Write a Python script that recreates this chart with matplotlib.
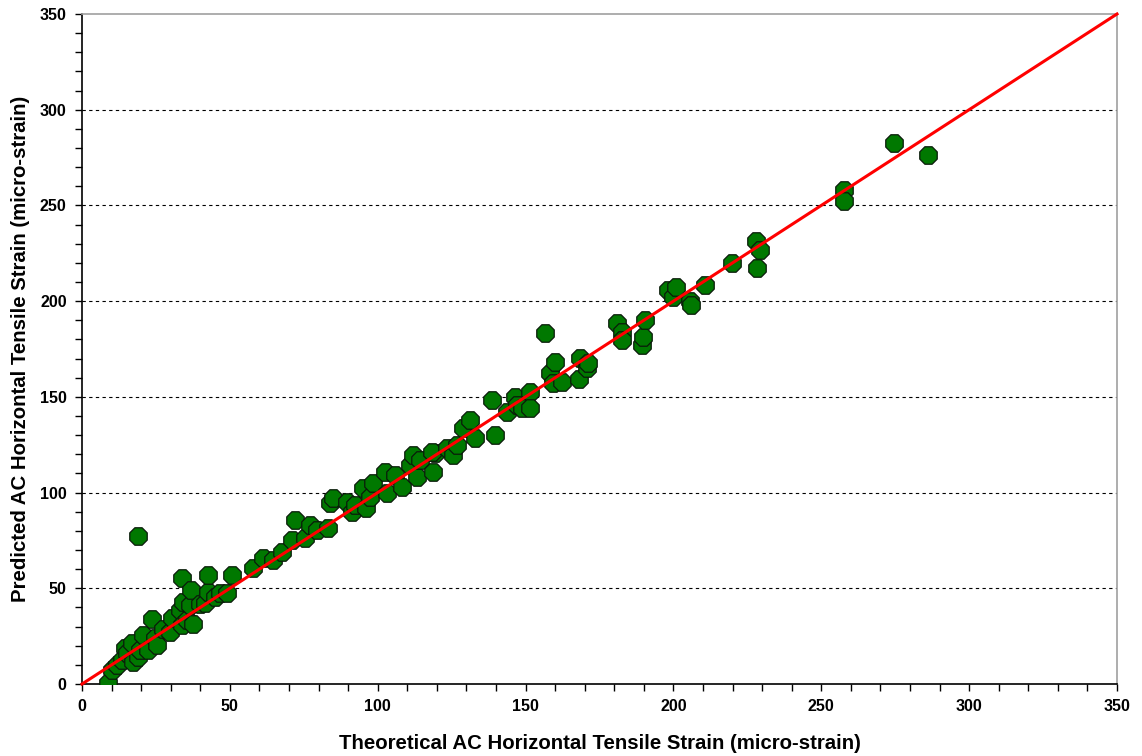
import matplotlib.pyplot as plt
from matplotlib.ticker import MultipleLocator

# Theoretical vs predicted AC horizontal tensile strain (micro-strain)
theoretical = [
    8.9, 10.0, 11.7, 13.4, 14.5, 15.1, 16.8, 17.3, 19.0, 19.6, 20.7, 22.4, 23.6, 24.7, 25.2,
    27.5, 29.8, 30.3, 33.1, 33.7, 33.7, 34.3, 35.4, 36.5, 36.7, 37.6, 39.9, 41.6, 42.7, 42.7,
    45.0, 46.7, 48.9, 50.6, 18.9,
    57.9, 61.3, 64.7, 67.5, 70.9, 72.0, 75.4, 77.1, 79.4, 83.3, 83.9, 85.0, 89.5, 91.2, 92.3,
    95.1, 96.2, 97.4, 98.5, 102.5, 103.0, 105.9, 108.1, 110.9, 112.0, 113.2, 114.3, 118.8, 119.4,
    118.3, 123.3, 125.6, 126.7, 129.0, 131.2, 132.9, 138.5, 139.7, 143.6, 146.4, 147.0, 148.7,
    151.5, 151.5, 156.6, 158.3, 159.4, 160.0, 162.2, 168.2, 168.4, 170.7, 171.2,
    180.8, 182.5, 182.5, 189.3, 189.8, 190.4, 198.3, 199.8, 200.9, 205.6, 206.0, 210.7,
    219.7, 228.0, 228.3, 229.3, 257.6, 257.6, 274.6, 286.0,
]
predicted = [
    0.7, 7.3, 9.9, 12.5, 18.6, 16.0, 21.3, 11.7, 14.3, 17.8, 25.6, 17.8, 33.8, 23.9, 20.4,
    29.0, 27.3, 34.3, 38.7, 30.8, 55.2, 43.0, 33.4, 41.3, 49.0, 31.6, 42.0, 42.2, 48.2, 57.0,
    45.6, 47.5, 47.4, 57.0, 77.3,
    60.4, 65.6, 64.8, 69.1, 75.2, 85.7, 76.1, 83.1, 80.5, 81.4, 94.4, 97.1, 95.3, 90.1, 93.5,
    102.3, 91.8, 97.9, 104.8, 111.0, 99.6, 109.2, 103.1, 114.4, 119.6, 108.3, 117.0, 111.0, 120.7,
    121.4, 123.1, 119.6, 124.9, 133.6, 137.9, 128.4, 148.4, 130.1, 142.3, 150.1, 145.8, 144.1,
    152.8, 144.1, 183.2, 162.3, 157.0, 168.4, 158.0, 159.2, 170.1, 165.0, 167.5,
    188.4, 184.0, 179.7, 177.0, 181.4, 190.2, 205.9, 202.0, 207.3, 200.3, 198.0, 208.5,
    220.0, 231.5, 217.3, 226.8, 258.0, 252.5, 282.6, 276.4,
]
line_of_equality = [0, 350]

plt.rcParams['font.family'] = ['Liberation Sans', 'DejaVu Sans']

fig = plt.figure(figsize=(11.42, 7.56), dpi=100)
ax = fig.add_axes([0.0718, 0.0952, 0.9063, 0.8863])

# Horizontal dashed gridlines
for yv in range(50, 350, 50):
    ax.axhline(yv, color='black', linestyle=(0, (3, 3)), linewidth=0.8, zorder=1)

ax.scatter(theoretical, predicted, marker='8', s=185, color='#007800',
           edgecolor='#0a1a0a', linewidth=0.9, zorder=3)
ax.plot(line_of_equality, line_of_equality, color='#ff0000', linewidth=2.2, zorder=4,
        clip_on=False)

ax.set_xlim(0, 350)
ax.set_ylim(0, 350)
ax.xaxis.set_major_locator(MultipleLocator(50))
ax.yaxis.set_major_locator(MultipleLocator(50))
ax.xaxis.set_minor_locator(MultipleLocator(10))
ax.yaxis.set_minor_locator(MultipleLocator(10))
ax.tick_params(which='both', direction='out', length=5, width=1, color='black')
ax.tick_params(which='major', labelsize=11.5, pad=6)

for lbl in ax.get_xticklabels() + ax.get_yticklabels():
    lbl.set_fontweight('bold')

ax.spines['left'].set_color('black')
ax.spines['bottom'].set_color('black')
ax.spines['top'].set_color('#a0a0a0')
ax.spines['right'].set_color('#a0a0a0')
for s in ax.spines.values():
    s.set_linewidth(1.2)

ax.set_xlabel('Theoretical AC Horizontal Tensile Strain (micro-strain)',
              fontsize=14.7, fontweight='bold', labelpad=14)
ax.set_ylabel('Predicted AC Horizontal Tensile Strain (micro-strain)',
              fontsize=14.7, fontweight='bold', labelpad=7)

fig.savefig('out.png', dpi=100)
